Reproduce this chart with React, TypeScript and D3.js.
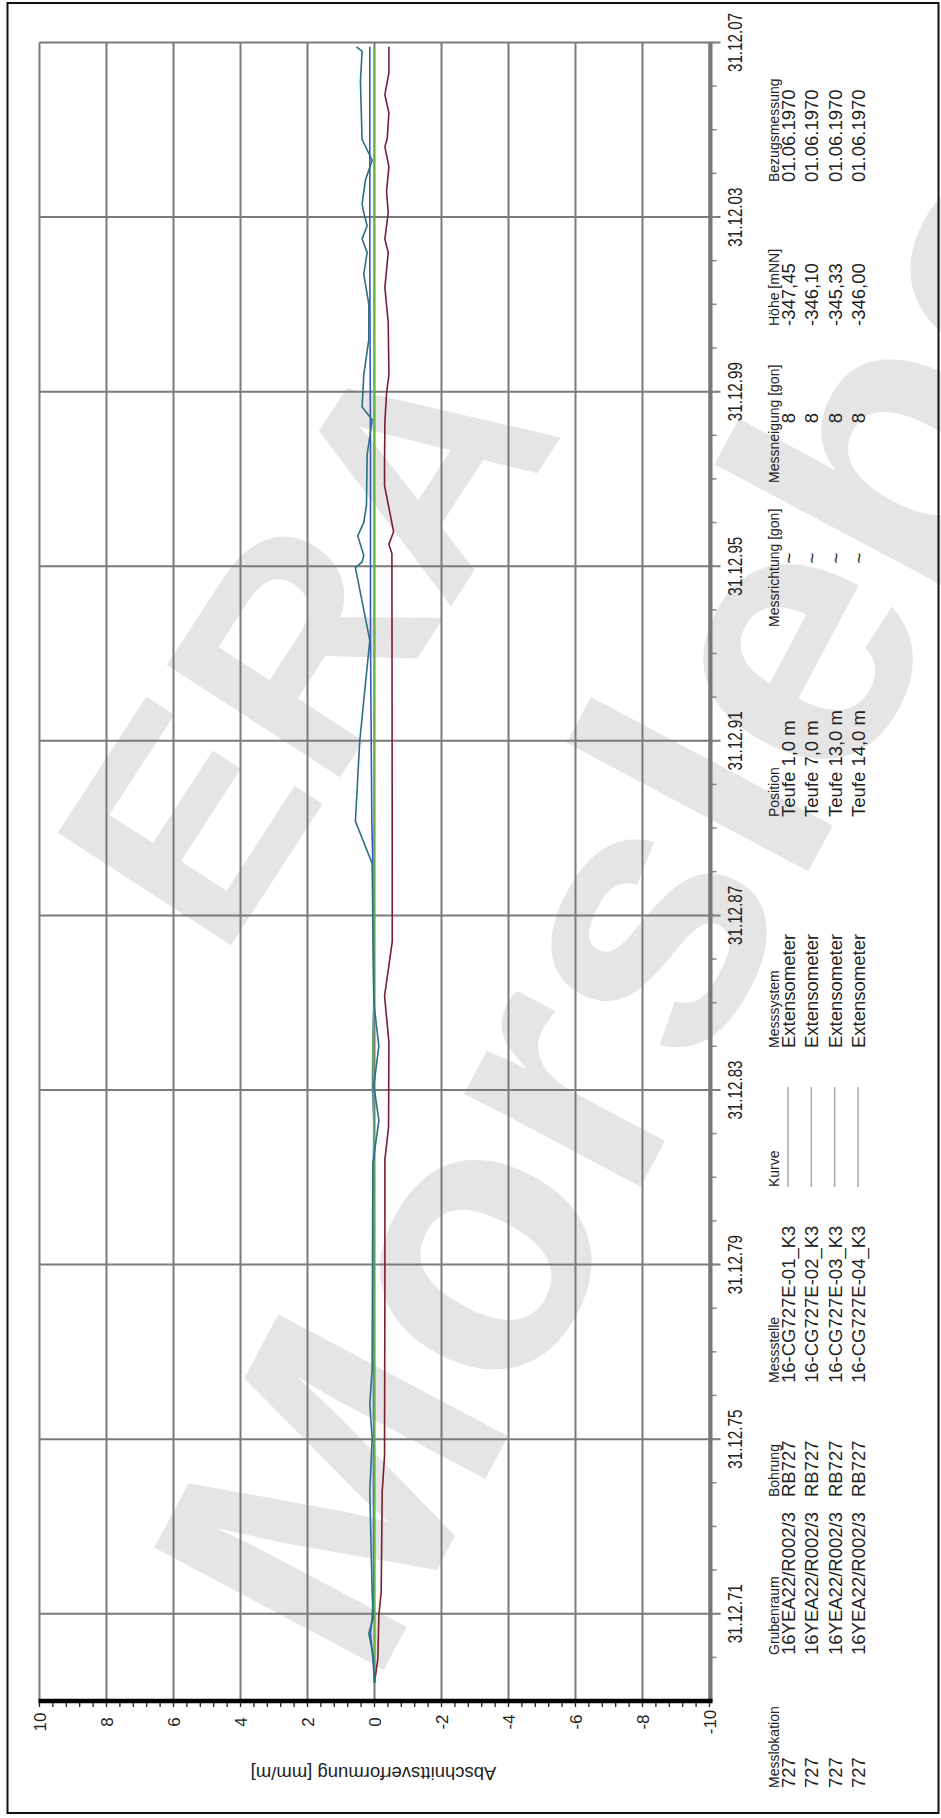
import React from "react";
import * as d3 from "d3";

const W = 941;
const H = 1818;

// time axis (drawn vertically): 31.12.69 .. 31.12.07
const timeDomain = ["1969-12-31", "2007-12-31"];
const majorTickYears = [1971, 1975, 1979, 1983, 1987, 1991, 1995, 1999, 2003, 2007];
const valueTicks = [10, 8, 6, 4, 2, 0, -2, -4, -6, -8, -10];

const axisTitle = "Abschnittsverformung [mm/m]";

// series values [date, mm/m]
const redSeries: [string, number][] = [
  ["1970-06-01", 0], ["1970-12-20", -0.1], ["1971-12-20", -0.13], ["1972-07-01", -0.2],
  ["1974-10-15", -0.23], ["1975-08-15", -0.3], ["1976-01-01", -0.3], ["1979-07-01", -0.31],
  ["1982-05-25", -0.31], ["1983-02-25", -0.42], ["1985-02-05", -0.43], ["1986-02-25", -0.3],
  ["1987-05-25", -0.53], ["1989-01-01", -0.53], ["1996-04-15", -0.52], ["1996-07-01", -0.43],
  ["1996-10-15", -0.57], ["1997-11-05", -0.3], ["1998-05-20", -0.3], ["1999-04-20", -0.31],
  ["1999-12-20", -0.36], ["2000-05-20", -0.43], ["2001-08-01", -0.41], ["2002-05-20", -0.31],
  ["2003-03-10", -0.41], ["2003-07-01", -0.31], ["2004-02-05", -0.41], ["2004-08-01", -0.36],
  ["2005-02-25", -0.43], ["2005-08-10", -0.31], ["2005-10-20", -0.38], ["2006-05-20", -0.43],
  ["2006-10-20", -0.31], ["2007-04-20", -0.43], ["2007-11-25", -0.43],
];

const tealSeries: [string, number][] = [
  ["1970-06-01", 0], ["1971-01-01", 0.03], ["1971-07-20", 0.17], ["1971-11-25", 0.04],
  ["1972-07-01", 0.07], ["1974-10-15", 0.14], ["1976-01-01", 0.07], ["1976-10-20", 0.14],
  ["1977-08-10", 0.07], ["1982-04-20", 0.05], ["1983-04-20", -0.13], ["1984-02-05", 0.02],
  ["1985-01-01", -0.13], ["1986-01-01", 0.02], ["1989-03-10", 0.07], ["1990-02-25", 0.57],
  ["1992-01-01", 0.44], ["1994-04-20", 0.14], ["1995-12-20", 0.57], ["1996-02-05", 0.37],
  ["1996-04-01", 0.32], ["1996-09-10", 0.5], ["1997-01-01", 0.32], ["1997-05-25", 0.24],
  ["1998-07-20", 0.22], ["1999-05-10", 0.07], ["1999-08-25", 0.37], ["2000-05-20", 0.32],
  ["2001-03-10", 0.17], ["2002-01-01", 0.17], ["2002-09-10", 0.32], ["2003-03-10", 0.22],
  ["2003-07-01", 0.37], ["2003-10-20", 0.22], ["2004-02-05", 0.32], ["2004-04-20", 0.37],
  ["2004-11-05", 0.27], ["2005-04-20", 0.07], ["2005-10-10", 0.37], ["2007-02-05", 0.42],
  ["2007-10-20", 0.37], ["2007-11-25", 0.54],
];

const blueSeries: [string, number][] = [
  ["1970-06-01", 0], ["1971-01-01", 0.05], ["1971-07-20", 0.12], ["1971-11-25", 0.07],
  ["1972-07-01", 0.03], ["1982-04-20", 0.03], ["1983-04-20", 0.02], ["1984-02-05", 0.06],
  ["1985-01-01", 0.05], ["1986-01-01", 0.02], ["1989-03-10", 0.05], ["1990-02-25", 0.08],
  ["1994-04-20", 0.12], ["1998-07-01", 0.12], ["2003-01-01", 0.14], ["2007-11-25", 0.14],
];

const greenSeries: [string, number][] = [
  ["1970-06-01", 0], ["1975-01-01", 0.01], ["1983-01-01", 0.02], ["1985-01-01", 0.05],
  ["1986-01-01", 0.02], ["1995-01-01", 0.01], ["2007-11-25", 0.01],
];

const seriesColors = ["#7a1e2c", "#3457c4", "#63b84a", "#2c6f80"];

// legend table
const colMesslokation = ["727", "727", "727", "727"];
const colGrubenraum = ["16YEA22/R002/3", "16YEA22/R002/3", "16YEA22/R002/3", "16YEA22/R002/3"];
const colBohrung = ["RB727", "RB727", "RB727", "RB727"];
const colMessstelle = ["16-CG727E-01_K3", "16-CG727E-02_K3", "16-CG727E-03_K3", "16-CG727E-04_K3"];
const colMesssystem = ["Extensometer", "Extensometer", "Extensometer", "Extensometer"];
const colPosition = ["Teufe 1,0 m", "Teufe 7,0 m", "Teufe 13,0 m", "Teufe 14,0 m"];
const colMessrichtung = ["~", "~", "~", "~"];
const colMessneigung = ["8", "8", "8", "8"];
const colHoehe = ["-347,45", "-346,10", "-345,33", "-346,00"];
const colBezug = ["01.06.1970", "01.06.1970", "01.06.1970", "01.06.1970"];

const FONT = "Arial, 'Liberation Sans', Helvetica, sans-serif";

function VText(props: {
  x: number; y: number; size: number; anchor?: string; sx?: number; fill?: string; children: any;
}) {
  const { x, y, size, anchor = "start", sx = 1, fill = "#222" } = props;
  return (
    <text
      transform={`translate(${x},${y}) rotate(-90) scale(${sx},1)`}
      fontSize={size}
      textAnchor={anchor}
      fill={fill}
      fontFamily={FONT}
    >
      {props.children}
    </text>
  );
}

export default function App() {
  const parse = d3.timeParse("%Y-%m-%d");
  const yT = d3
    .scaleTime()
    .domain(timeDomain.map((d) => parse(d) as Date))
    .range([1701, 42.5]);
  const xV = d3.scaleLinear().domain([10, -10]).range([39.5, 709.5]);

  const plotL = xV(10);
  const plotR = xV(-10);
  const plotT = yT.range()[1];
  const plotB = yT.range()[0];

  const line = d3
    .line<[string, number]>()
    .x((d) => xV(d[1]))
    .y((d) => yT(parse(d[0]) as Date));

  const majorDates = majorTickYears.map((yr) => new Date(yr, 11, 31));
  const minorDates = d3.range(1970, 2008).map((yr) => new Date(yr, 11, 31));
  const minorVals = d3.range(0, 51).map((i) => 10 - i * 0.4);

  const fmt = d3.timeFormat("%d.%m.%y");

  const allSeries = [redSeries, blueSeries, greenSeries, tealSeries];
  const colorOrder = [seriesColors[0], seriesColors[1], seriesColors[2], seriesColors[3]];

  const rowX = [795, 818.3, 841.6, 865];
  const headX = 779;
  const rowSize = 18.5;
  const headSize = 14;

  const columns: { head: string; start: number; vals: string[]; valAnchor?: string; valPos?: number }[] = [
    { head: "Messlokation", start: 1788, vals: colMesslokation },
    { head: "Grubenraum", start: 1655, vals: colGrubenraum },
    { head: "Bohrung", start: 1497, vals: colBohrung },
    { head: "Messstelle", start: 1383, vals: colMessstelle },
    { head: "Messsystem", start: 1048, vals: colMesssystem },
    { head: "Position", start: 817, vals: colPosition },
    { head: "Messrichtung [gon]", start: 627, vals: colMessrichtung, valAnchor: "middle", valPos: 558 },
    { head: "Messneigung [gon]", start: 483, vals: colMessneigung, valAnchor: "middle", valPos: 418 },
    { head: "Höhe [mNN]", start: 326, vals: colHoehe },
    { head: "Bezugsmessung", start: 182, vals: colBezug },
  ];

  return (
    <svg
      width={W}
      height={H}
      style={{ position: "absolute", left: 0, top: 0, display: "block", background: "#fff" }}
    >
      <rect x={0} y={0} width={W} height={H} fill="#fff" />
      {/* watermark */}
      <g fill="#e5e5e5" fontFamily={FONT} fontWeight="bold">
        <text transform="translate(220,962) rotate(-57)" fontSize={300}>ERA</text>
        <text transform="translate(372,1692) rotate(-62)" fontSize={378}>Morsleben</text>
      </g>

      {/* frame */}
      <rect x={7.5} y={3} width={931} height={1810} fill="none" stroke="#111" strokeWidth={2} />

      {/* vertical grid (value) */}
      {valueTicks.map((v) => (
        <line key={"gv" + v} x1={xV(v)} x2={xV(v)} y1={plotT} y2={plotB} stroke="#7a7a7a" strokeWidth={2} />
      ))}
      {/* horizontal grid (time) */}
      {majorDates.map((d, i) => (
        <line key={"gh" + i} x1={plotL} x2={plotR + 11} y1={yT(d)} y2={yT(d)} stroke="#7a7a7a" strokeWidth={2} />
      ))}
      {/* minor time ticks */}
      {minorDates.map((d, i) => (
        <line key={"mt" + i} x1={plotR} x2={plotR + 7} y1={yT(d)} y2={yT(d)} stroke="#888" strokeWidth={1.5} />
      ))}
      {/* right time axis */}
      <line x1={plotR + 1} x2={plotR + 1} y1={plotT} y2={plotB + 1} stroke="#777" strokeWidth={4} />
      {/* bottom value axis */}
      {minorVals.map((v, i) => (
        <line key={"mv" + i} x1={xV(v)} x2={xV(v)} y1={plotB} y2={plotB + 6} stroke="#222" strokeWidth={1.3} />
      ))}
      <line x1={plotL - 1} x2={plotR + 3} y1={plotB} y2={plotB} stroke="#000" strokeWidth={4.5} />

      {/* series */}
      {allSeries.map((s, i) => (
        <path key={"s" + i} d={line(s) || ""} fill="none" stroke={colorOrder[i]} strokeWidth={1.6} />
      ))}

      {/* time tick labels */}
      {majorDates.map((d, i) => (
        <VText key={"tl" + i} x={742} y={yT(d)} size={20} sx={0.76} anchor="middle">
          {fmt(d)}
        </VText>
      ))}

      {/* value tick labels */}
      {valueTicks.map((v) => (
        <VText key={"vl" + v} x={xV(v) + 6} y={1722} size={17} anchor="middle">
          {String(v)}
        </VText>
      ))}

      {/* axis title, upside down */}
      <text
        transform={`translate(${xV(0) - 1},1767) rotate(180)`}
        fontSize={18.5}
        textAnchor="middle"
        fill="#222"
        fontFamily={FONT}
      >
        {axisTitle}
      </text>

      {/* legend */}
      {columns.map((c) => (
        <g key={c.head}>
          <VText x={headX} y={c.start} size={headSize}>{c.head}</VText>
          {c.vals.map((v, i) => (
            <VText
              key={i}
              x={rowX[i]}
              y={c.valPos !== undefined ? c.valPos : c.start}
              size={rowSize}
              anchor={c.valAnchor || "start"}
            >
              {v}
            </VText>
          ))}
        </g>
      ))}
      <VText x={headX} y={1187} size={headSize}>Kurve</VText>
      {rowX.map((rx, i) => (
        <line key={"kl" + i} x1={rx - 7} x2={rx - 7} y1={1187} y2={1087} stroke="#aaa" strokeWidth={1.5} />
      ))}
    </svg>
  );
}
